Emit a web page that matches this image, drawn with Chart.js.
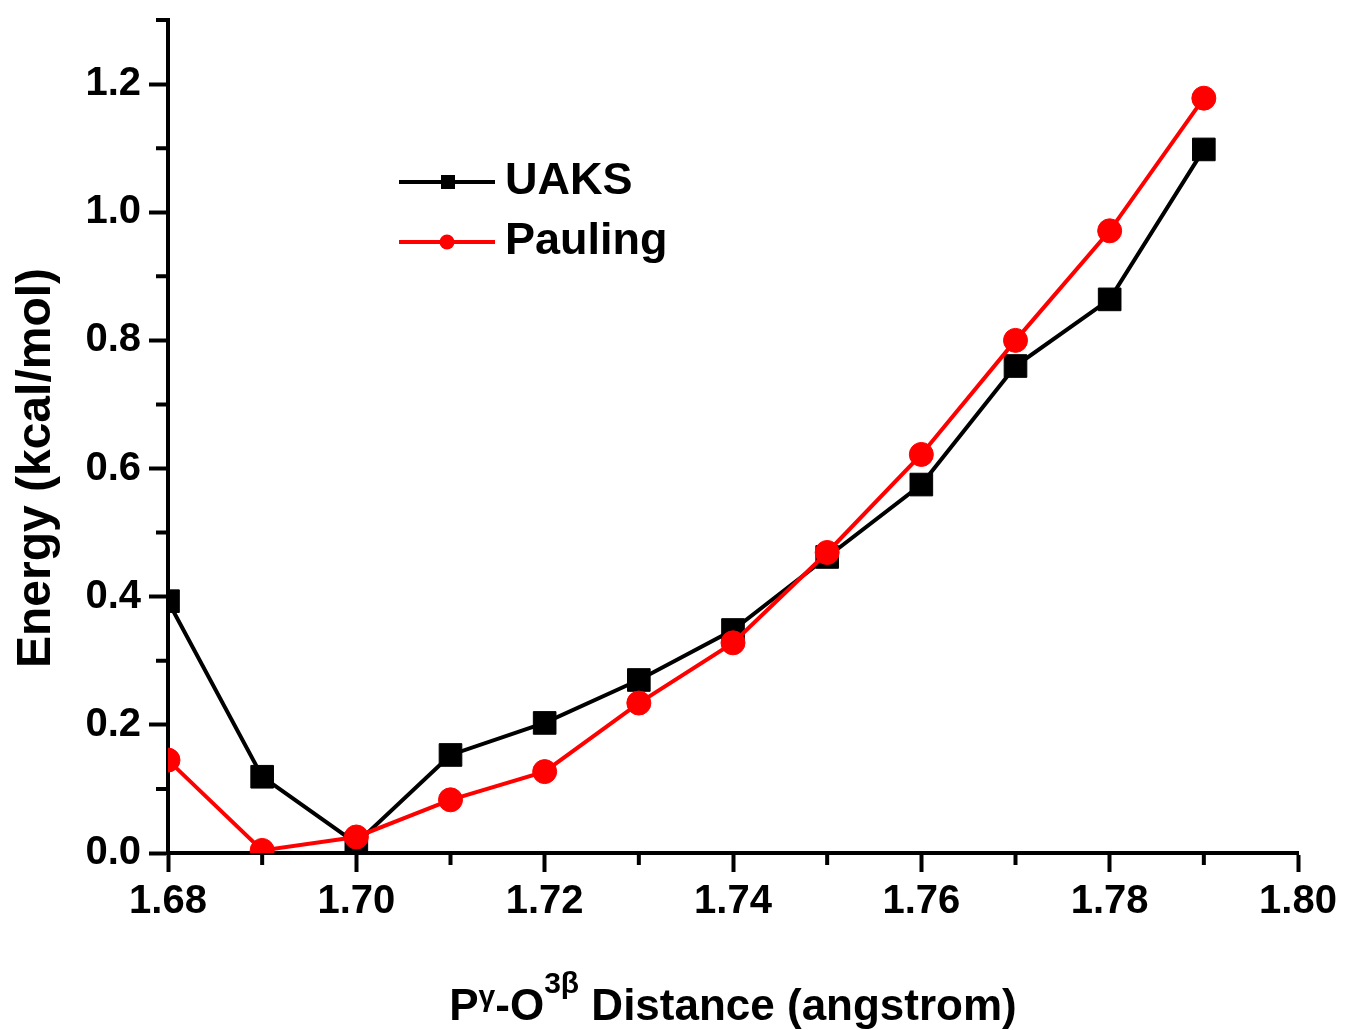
<!DOCTYPE html>
<html lang="en">
<head>
  <meta charset="UTF-8" />
  <title>Energy vs P-O distance</title>
  <script src="https://cdn.jsdelivr.net/npm/chart.js"></script>
  <style>
    html, body { margin: 0; padding: 0; background: #fff; }
    #wrap { width: 1347px; height: 1030px; }
  </style>
</head>
<body>
  <div id="wrap"><canvas id="chart" width="1347" height="1030"></canvas></div>

  <script>
    // values
    const distances = [1.68, 1.69, 1.70, 1.71, 1.72, 1.73, 1.74, 1.75, 1.76, 1.77, 1.78, 1.79];
    const uaks    = [0.393, 0.119, 0.015, 0.153, 0.203, 0.270, 0.348, 0.462, 0.575, 0.760, 0.864, 1.098];
    const pauling = [0.145, 0.004, 0.025, 0.083, 0.127, 0.234, 0.328, 0.469, 0.622, 0.800, 0.971, 1.178];

    const xTicks = [1.68, 1.70, 1.72, 1.74, 1.76, 1.78, 1.80];
    const xMinor = [1.69, 1.71, 1.73, 1.75, 1.77, 1.79];
    const yTicks = [0.0, 0.2, 0.4, 0.6, 0.8, 1.0, 1.2];
    const yMinor = [0.1, 0.3, 0.5, 0.7, 0.9, 1.1, 1.3];

    const FONT = '"Liberation Sans", Arial, sans-serif';

    // short ticks between the labelled ones
    const minorTicks = {
      id: 'minorTicks',
      afterDraw(chart) {
        const { ctx, chartArea, scales } = chart;
        ctx.save();
        ctx.strokeStyle = '#000';
        ctx.lineWidth = 4;
        ctx.beginPath();
        xMinor.forEach(v => {
          const px = scales.x.getPixelForValue(v);
          ctx.moveTo(px, chartArea.bottom);
          ctx.lineTo(px, chartArea.bottom + 12);
        });
        yMinor.forEach(v => {
          const py = scales.y.getPixelForValue(v);
          ctx.moveTo(chartArea.left, py);
          ctx.lineTo(chartArea.left - 12, py);
        });
        ctx.stroke();
        ctx.restore();
      }
    };

    // axis titles (x title has superscripts) and the legend box
    const extras = {
      id: 'extras',
      afterDraw(chart) {
        const { ctx, chartArea } = chart;
        ctx.save();
        ctx.fillStyle = '#000';

        // x title
        const big = 'bold 44px ' + FONT;
        const small = 'bold 30px ' + FONT;
        const parts = [
          ['P', big, 0], ['\u03b3', small, 14], ['-O', big, 0],
          ['3\u03b2', small, 27], [' Distance (angstrom)', big, 0]
        ];
        let total = 0;
        parts.forEach(p => { ctx.font = p[1]; total += ctx.measureText(p[0]).width; });
        let x = (chartArea.left + chartArea.right) / 2 - total / 2;
        ctx.textAlign = 'left';
        ctx.textBaseline = 'alphabetic';
        parts.forEach(p => {
          ctx.font = p[1];
          ctx.fillText(p[0], x, 1020 - p[2]);
          x += ctx.measureText(p[0]).width;
        });

        // y title
        ctx.save();
        ctx.translate(37, 468);
        ctx.rotate(-Math.PI / 2);
        ctx.font = 'bold 48px ' + FONT;
        ctx.textAlign = 'center';
        ctx.textBaseline = 'middle';
        ctx.fillText('Energy (kcal/mol)', 0, 0);
        ctx.restore();

        // legend
        const rows = [
          { label: 'UAKS', color: '#000000', style: 'rect', y: 182 },
          { label: 'Pauling', color: '#ff0000', style: 'circle', y: 242 }
        ];
        rows.forEach(r => {
          ctx.strokeStyle = r.color;
          ctx.fillStyle = r.color;
          ctx.lineWidth = 4;
          ctx.beginPath();
          ctx.moveTo(399, r.y);
          ctx.lineTo(495, r.y);
          ctx.stroke();
          ctx.beginPath();
          if (r.style === 'rect') ctx.rect(441, r.y - 7, 14, 14);
          else ctx.arc(447, r.y, 7.5, 0, Math.PI * 2);
          ctx.fill();
          ctx.fillStyle = '#000';
          ctx.font = 'bold 45px ' + FONT;
          ctx.textAlign = 'left';
          ctx.textBaseline = 'middle';
          ctx.fillText(r.label, 505, r.y);
        });
        ctx.restore();
      }
    };

    const ctx = document.getElementById('chart').getContext('2d');

    new Chart(ctx, {
      type: 'line',
      data: {
        datasets: [
          {
            label: 'UAKS',
            data: distances.map((d, i) => ({ x: d, y: uaks[i] })),
            borderColor: '#000000',
            backgroundColor: '#000000',
            borderWidth: 4,
            pointStyle: 'rect',
            pointRadius: 16,
            pointBorderWidth: 1,
            pointHoverRadius: 16,
            order: 1
          },
          {
            label: 'Pauling',
            data: distances.map((d, i) => ({ x: d, y: pauling[i] })),
            borderColor: '#ff0000',
            backgroundColor: '#ff0000',
            borderWidth: 4,
            pointStyle: 'circle',
            pointRadius: 12,
            pointBorderWidth: 1,
            pointHoverRadius: 12,
            order: 0
          }
        ]
      },
      options: {
        responsive: false,
        animation: false,
        devicePixelRatio: 1,
        layout: { padding: { top: 20, right: 49, bottom: 0, left: 0 } },
        plugins: {
          legend: { display: false },
          tooltip: { enabled: false }
        },
        scales: {
          x: {
            type: 'linear',
            min: 1.68,
            max: 1.80,
            afterBuildTicks: s => { s.ticks = xTicks.map(v => ({ value: v })); },
            afterFit: s => { s.height = 177; s.paddingLeft = 0; s.paddingRight = 0; },
            grid: { drawOnChartArea: false, drawTicks: true, tickLength: 19, tickWidth: 4, tickColor: '#000' },
            border: { display: true, color: '#000', width: 4 },
            ticks: {
              color: '#000',
              font: { family: FONT, size: 40, weight: 'bold' },
              padding: 6,
              maxRotation: 0,
              autoSkip: false,
              callback: v => v.toFixed(2)
            }
          },
          y: {
            min: 0,
            max: 1.3,
            afterBuildTicks: s => { s.ticks = yTicks.map(v => ({ value: v })); },
            afterFit: s => { s.width = 168; s.paddingTop = 0; s.paddingBottom = 0; },
            grid: { drawOnChartArea: false, drawTicks: true, tickLength: 19, tickWidth: 4, tickColor: '#000' },
            border: { display: true, color: '#000', width: 4 },
            ticks: {
              color: '#000',
              font: { family: FONT, size: 40, weight: 'bold' },
              padding: 8,
              autoSkip: false,
              callback: v => v.toFixed(1)
            }
          }
        }
      },
      plugins: [minorTicks, extras]
    });
  </script>
</body>
</html>
